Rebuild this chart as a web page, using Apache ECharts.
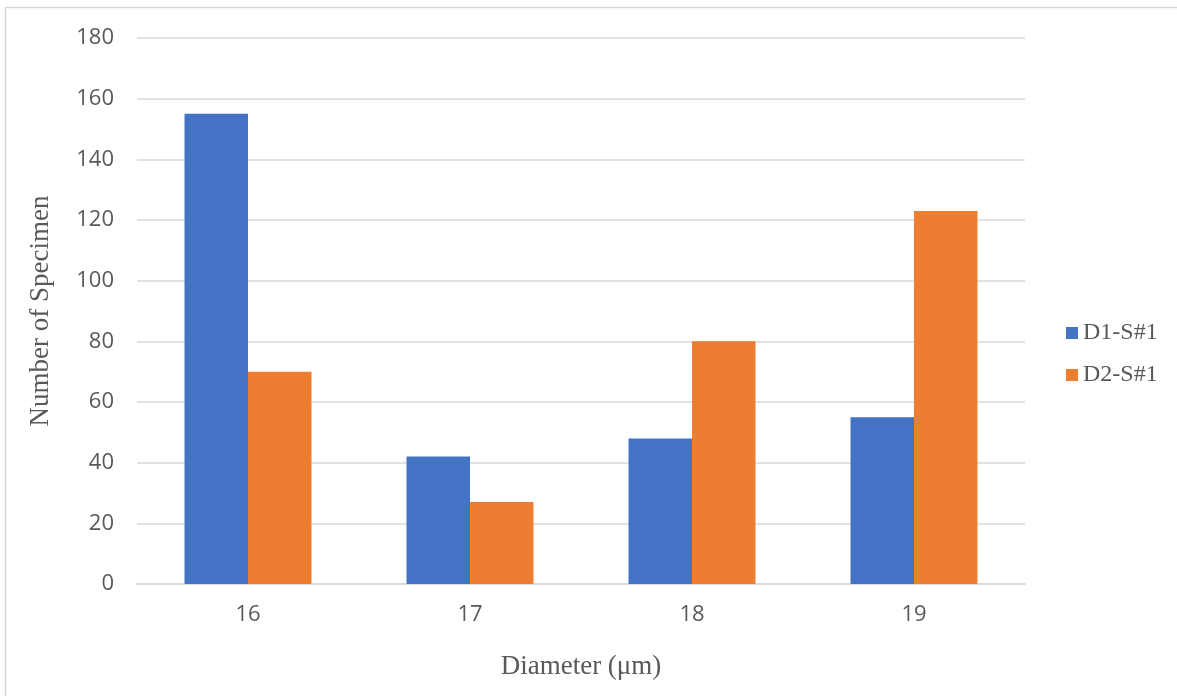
<!DOCTYPE html>
<html>
<head>
<meta charset="utf-8">
<script src="https://cdn.jsdelivr.net/npm/echarts@6/dist/echarts.min.js"></script>
<style>
  html, body { margin: 0; padding: 0; background: #fff; }
  #chart { width: 1177px; height: 696px; }
</style>
</head>
<body>
<div id="chart"></div>
<script>
// Specimen counts per fibre diameter
const categories = ['16', '17', '18', '19'];
const seriesNames = ['D1-S#1', 'D2-S#1'];
const d1Values = [155, 42, 48, 55];
const d2Values = [70, 27, 80, 123];
const yTicks = { min: 0, max: 180, interval: 20 };

const chart = echarts.init(document.getElementById('chart'), null, { renderer: 'canvas' });

const serif = '"Liberation Serif", "Times New Roman", serif';
const sans = '"Open Sans", "Noto Sans", sans-serif';

chart.setOption({
  backgroundColor: '#ffffff',
  animation: false,
  graphic: [{
    // outer frame; right and bottom edges run off the canvas
    type: 'rect',
    shape: { x: 5.5, y: 7.5, width: 1190, height: 700 },
    style: { fill: 'none', stroke: '#d9d9d9', lineWidth: 1.5 },
    silent: true
  }],
  grid: { left: 137, right: 152, top: 38, bottom: 112, containLabel: false },
  legend: {
    orient: 'vertical',
    left: 1061,
    top: 316,
    itemWidth: 12,
    itemHeight: 12,
    itemGap: 18,
    icon: 'rect',
    textStyle: { fontFamily: serif, fontSize: 24, color: '#595959' },
    data: seriesNames
  },
  xAxis: {
    type: 'category',
    data: categories,
    name: 'Diameter (μm)',
    nameLocation: 'middle',
    nameGap: 69,
    nameTextStyle: { fontFamily: serif, fontSize: 27, color: '#595959' },
    axisLine: { lineStyle: { color: '#d9d9d9', width: 1.5 } },
    axisTick: { show: false },
    axisLabel: { fontFamily: sans, fontSize: 22, color: '#595959', margin: 20 }
  },
  yAxis: {
    type: 'value',
    min: yTicks.min,
    max: yTicks.max,
    interval: yTicks.interval,
    name: 'Number of Specimen',
    nameLocation: 'middle',
    nameGap: 83,
    nameTextStyle: { fontFamily: serif, fontSize: 27, color: '#595959' },
    axisLine: { show: false },
    axisTick: { show: false },
    axisLabel: { fontFamily: sans, fontSize: 22, color: '#595959', margin: 23 },
    splitLine: { lineStyle: { color: '#d9d9d9', width: 1.5 } }
  },
  series: [
    {
      name: seriesNames[0],
      type: 'bar',
      data: d1Values,
      barWidth: '28.6%',
      barGap: '0%',
      itemStyle: { color: '#4472c4' }
    },
    {
      name: seriesNames[1],
      type: 'bar',
      data: d2Values,
      barWidth: '28.6%',
      barGap: '0%',
      itemStyle: { color: '#ed7d31' }
    }
  ]
});
</script>
</body>
</html>
